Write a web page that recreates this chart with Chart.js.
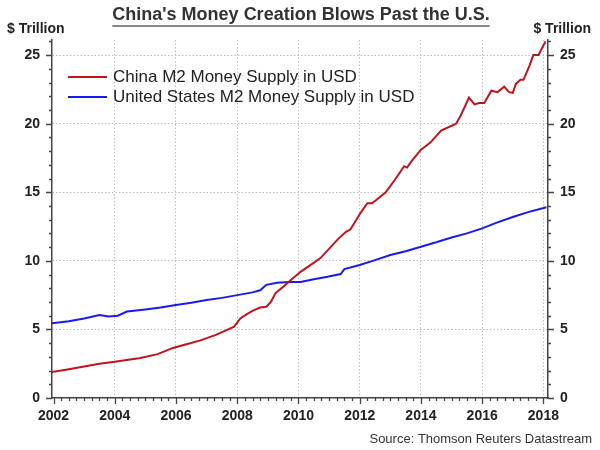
<!DOCTYPE html>
<html>
<head>
<meta charset="utf-8">
<script src="https://cdn.jsdelivr.net/npm/chart.js@4.4.1/dist/chart.umd.min.js"></script>
<style>
  html, body { margin: 0; padding: 0; background: #fff; }
  canvas { display: block; }
</style>
</head>
<body>
<canvas id="graficaM2" width="600" height="450"></canvas>
<script>
// Datos (billones de USD)
const chinaYears = [2001.95, 2002.25, 2002.5, 2003.0, 2003.5, 2004.0, 2004.5, 2004.8, 2005.4, 2005.9,
  2006.4, 2006.8, 2007.3, 2007.6, 2007.9, 2008.1, 2008.3, 2008.5, 2008.75, 2008.95,
  2009.1, 2009.25, 2009.5, 2009.75, 2010.07, 2010.4, 2010.72, 2011.05, 2011.3, 2011.54,
  2011.7, 2012.03, 2012.25, 2012.4, 2012.52, 2012.85, 2013.18, 2013.45, 2013.55, 2013.67,
  2014.0, 2014.3, 2014.66, 2015.15, 2015.3, 2015.57, 2015.75, 2015.9, 2016.07, 2016.3,
  2016.5, 2016.72, 2016.88, 2017.0, 2017.1, 2017.25, 2017.35, 2017.54, 2017.67, 2017.84,
  2018.0, 2018.07];
const chinaM2 = [1.9, 2.0, 2.1, 2.3, 2.5, 2.65, 2.8, 2.9, 3.2, 3.65,
  3.95, 4.2, 4.6, 4.9, 5.2, 5.8, 6.1, 6.35, 6.6, 6.65,
  7.0, 7.65, 8.1, 8.6, 9.2, 9.7, 10.2, 11.0, 11.6, 12.1,
  12.3, 13.5, 14.2, 14.2, 14.4, 15.0, 16.0, 16.9, 16.8, 17.2,
  18.1, 18.6, 19.5, 20.0, 20.6, 21.9, 21.4, 21.5, 21.5, 22.4,
  22.3, 22.7, 22.3, 22.25, 22.9, 23.2, 23.2, 24.2, 25.0, 25.0,
  25.7, 26.0];

const usYears = [2001.95, 2002.5, 2003.0, 2003.5, 2003.8, 2004.1, 2004.4, 2005.0, 2005.5, 2006.0,
  2006.5, 2007.0, 2007.5, 2008.0, 2008.5, 2008.75, 2008.95, 2009.3, 2009.7, 2010.07,
  2010.5, 2010.95, 2011.38, 2011.5, 2012.0, 2012.5, 2013.0, 2013.5, 2014.0, 2014.5,
  2015.0, 2015.5, 2016.0, 2016.5, 2017.0, 2017.5, 2018.1];
const usM2 = [5.44, 5.6, 5.8, 6.05, 5.95, 6.0, 6.3, 6.45, 6.6, 6.78,
  6.95, 7.14, 7.3, 7.5, 7.7, 7.85, 8.25, 8.4, 8.45, 8.45,
  8.65, 8.84, 9.04, 9.4, 9.7, 10.05, 10.42, 10.7, 11.03, 11.35,
  11.7, 12.0, 12.37, 12.8, 13.2, 13.55, 13.9];

const yearTicks = [2002, 2004, 2006, 2008, 2010, 2012, 2014, 2016, 2018];
const valueTicks = [0, 5, 10, 15, 20, 25];

const seriesNames = ['China M2 Money Supply in USD', 'United States M2 Money Supply in USD'];
const seriesColors = ['#c0141c', '#1a1aee'];

const fuente = '"Liberation Sans", Arial, sans-serif';

// Marcas menores de los ejes, título, leyenda y fuente
const decoraciones = {
  id: 'decoraciones',
  afterDraw(chart) {
    const ctx = chart.ctx;
    const area = chart.chartArea;
    const x = chart.scales.x;
    const y = chart.scales.y;
    ctx.save();
    ctx.strokeStyle = '#444';
    ctx.lineWidth = 1.3;
    ctx.beginPath();
    for (let v = 0; v <= 26; v++) {
      const py = Math.round(y.getPixelForValue(v)) + 0.5;
      const len = v % 5 === 0 ? 6 : 3;
      ctx.moveTo(area.left, py); ctx.lineTo(area.left - len, py);
      ctx.moveTo(area.right, py); ctx.lineTo(area.right + len, py);
    }
    for (let q = 0; q <= 64; q++) {
      const yr = 2002 + q / 4;
      const px = Math.round(x.getPixelForValue(yr)) + 0.5;
      const len = q % 8 === 0 ? 6 : 3;
      ctx.moveTo(px, area.bottom); ctx.lineTo(px, area.bottom + len);
    }
    ctx.stroke();

    // título subrayado
    ctx.fillStyle = '#333';
    ctx.font = 'bold 18px ' + fuente;
    ctx.textAlign = 'center';
    ctx.textBaseline = 'middle';
    ctx.fillText("China's Money Creation Blows Past the U.S.", 301, 15);
    const w = ctx.measureText("China's Money Creation Blows Past the U.S.").width;
    ctx.strokeStyle = '#888';
    ctx.lineWidth = 2;
    ctx.beginPath();
    ctx.moveTo(301 - w / 2, 26); ctx.lineTo(301 + w / 2, 26);
    ctx.stroke();

    ctx.font = 'bold 14px ' + fuente;
    ctx.fillStyle = '#222';
    ctx.textAlign = 'left';
    ctx.fillText('$ Trillion', 7, 29);
    ctx.textAlign = 'right';
    ctx.fillText('$ Trillion', 591, 29);

    // leyenda
    ctx.font = '17px ' + fuente;
    ctx.textAlign = 'left';
    seriesNames.forEach((nombre, i) => {
      const ly = 77 + i * 20;
      ctx.strokeStyle = seriesColors[i];
      ctx.lineWidth = 2;
      ctx.beginPath();
      ctx.moveTo(68, ly); ctx.lineTo(107, ly);
      ctx.stroke();
      ctx.fillStyle = '#222';
      ctx.fillText(nombre, 113, ly);
    });

    ctx.font = '13px ' + fuente;
    ctx.fillStyle = '#333';
    ctx.textAlign = 'right';
    ctx.fillText('Source: Thomson Reuters Datastream', 592, 439);
    ctx.restore();
  }
};

const ejeY = (pos) => ({
  type: 'linear',
  position: pos,
  min: 0,
  max: 26.1,
  afterBuildTicks: (scale) => { scale.ticks = valueTicks.map(v => ({ value: v })); },
  afterFit: (scale) => { scale.width = 52; },
  grid: {
    display: pos === 'left',
    drawTicks: false,
    color: (c) => (c.tick && c.tick.value === 0 ? 'rgba(0,0,0,0)' : '#bdbdbd'),
    lineWidth: 1
  },
  border: { display: true, color: '#444', width: 1.5, dash: [1.5, 2] },
  ticks: {
    padding: 12,
    color: '#222',
    font: { family: fuente, size: 14, weight: 'bold' }
  }
});

new Chart(document.getElementById('graficaM2'), {
  type: 'line',
  data: {
    datasets: [
      {
        label: seriesNames[0],
        data: chinaYears.map((yr, i) => ({ x: yr, y: chinaM2[i] })),
        borderColor: seriesColors[0],
        borderWidth: 2,
        pointRadius: 0,
        tension: 0
      },
      {
        label: seriesNames[1],
        data: usYears.map((yr, i) => ({ x: yr, y: usM2[i] })),
        borderColor: seriesColors[1],
        borderWidth: 2,
        pointRadius: 0,
        tension: 0
      }
    ]
  },
  options: {
    responsive: false,
    animation: false,
    layout: { padding: { top: 40, left: 0, right: 0, bottom: 0 } },
    plugins: {
      legend: { display: false },
      tooltip: { enabled: false },
      title: { display: false }
    },
    scales: {
      x: {
        type: 'linear',
        position: 'bottom',
        min: 2001.95,
        max: 2018.15,
        afterBuildTicks: (scale) => { scale.ticks = yearTicks.map(v => ({ value: v })); },
        afterFit: (scale) => { scale.height = 52; },
        grid: {
          drawTicks: false,
          color: (c) => (c.tick && c.tick.value === 2002 ? 'rgba(0,0,0,0)' : '#bdbdbd'),
          lineWidth: 1
        },
        border: { display: true, color: '#444', width: 1.5, dash: [1.5, 2] },
        ticks: {
          padding: 10,
          color: '#222',
          maxRotation: 0,
          callback: (v) => String(v),
          font: { family: fuente, size: 14, weight: 'bold' }
        }
      },
      y: ejeY('left'),
      y2: ejeY('right')
    }
  },
  plugins: [decoraciones]
});
</script>
</body>
</html>
